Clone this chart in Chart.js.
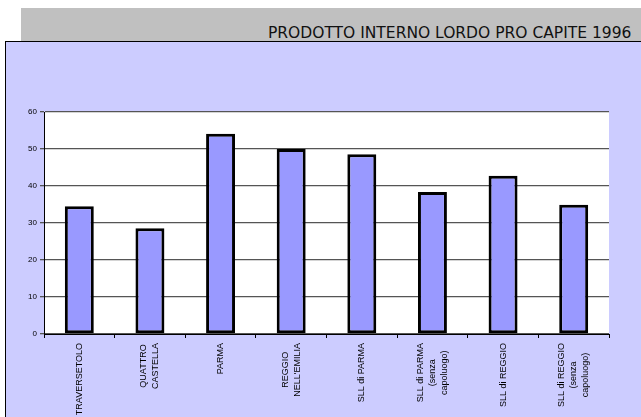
<!DOCTYPE html>
<html>
<head>
<meta charset="utf-8">
<script src="https://cdn.jsdelivr.net/npm/chart.js@4.4.1/dist/chart.umd.min.js"></script>
<style>
  html,body{margin:0;padding:0;background:#fff;}
  #wrap{position:relative;width:641px;height:417px;overflow:hidden;}
  #banner{position:absolute;left:21px;top:8px;width:640px;height:34px;background:#c0c0c0;}
  #title{position:absolute;left:247px;top:18px;font-family:"DejaVu Sans Condensed","DejaVu Sans",sans-serif;font-size:15px;line-height:15px;color:#111;white-space:nowrap;transform-origin:0 0;}
  #panel{position:absolute;left:5px;top:41px;width:650px;height:400px;background:#ccccff;border:1.5px solid #000;}
  canvas{position:absolute;left:0;top:0;}
</style>
</head>
<body>
<div id="wrap">
  <div id="banner"><div id="title">PRODOTTO INTERNO LORDO PRO CAPITE 1996</div></div>
  <div id="panel"></div>
  <canvas id="c" width="641" height="417"></canvas>
</div>
<script>
// PIL pro capite 1996, per comune / sistema locale
const areas = [
  ['TRAVERSETOLO'],
  ['QUATTRO','CASTELLA'],
  ['PARMA'],
  ['REGGIO','NELL\'EMILIA'],
  ['SLL di PARMA'],
  ['SLL di PARMA','(senza','capoluogo)'],
  ['SLL di REGGIO'],
  ['SLL di REGGIO','(senza','capoluogo)']
];
const pil = [34.5, 28.6, 54.1, 50.0, 48.6, 38.4, 42.8, 34.9];
const yTicks = [0, 10, 20, 30, 40, 50, 60];

// titolo stretto alla larghezza della banda grigia
const title = document.getElementById('title');
title.style.transform = 'scaleX(' + (363 / title.offsetWidth) + ')';

const labelFont = '9px "Liberation Sans", Arial, sans-serif';

// fondo bianco dell'area del grafico
const plotBg = {
  id:'plotBg',
  beforeDraw(chart){
    const a = chart.chartArea, ctx = chart.ctx;
    ctx.save();
    ctx.fillStyle = '#fff';
    ctx.fillRect(a.left, a.top, a.right - a.left, a.bottom - a.top);
    ctx.restore();
  }
};

// etichette verticali, righe centrate fra loro
const xLabels = {
  id:'xLabels',
  afterDraw(chart){
    const ctx = chart.ctx, x = chart.scales.x, top = chart.chartArea.bottom + 9;
    const lh = 12;
    ctx.save();
    ctx.font = labelFont;
    ctx.fillStyle = '#000';
    ctx.textAlign = 'center';
    ctx.textBaseline = 'middle';
    areas.forEach((lines, i) => {
      const cx = x.getPixelForValue(i);
      const w = Math.max(...lines.map(l => ctx.measureText(l).width));
      lines.forEach((l, j) => {
        const lx = cx + (j - (lines.length - 1) / 2) * lh;
        ctx.save();
        ctx.translate(lx, top + w / 2);
        ctx.rotate(-Math.PI / 2);
        ctx.fillText(l, 0, 0);
        ctx.restore();
      });
    });
    ctx.restore();
  }
};

new Chart(document.getElementById('c'), {
  type:'bar',
  data:{
    labels: areas.map(a => a.join(' ')),
    datasets:[{
      data: pil,
      backgroundColor:'#9999ff',
      borderColor:'#000',
      borderWidth:3,
      borderSkipped:false,
      categoryPercentage:1,
      barPercentage:0.41
    }]
  },
  options:{
    responsive:false,
    animation:false,
    layout:{padding:{left:0, top:112, right:32, bottom:0}},
    plugins:{legend:{display:false}, tooltip:{enabled:false}},
    scales:{
      x:{
        afterFit(s){ s.height = 83; },
        grid:{drawOnChartArea:false, drawTicks:true, tickLength:4, color:'#000'},
        border:{display:true, color:'#000', width:1},
        ticks:{display:false}
      },
      y:{
        min:0, max:60,
        afterFit(s){ s.width = 44; },
        afterBuildTicks(s){ s.ticks = yTicks.map(v => ({value:v})); },
        grid:{color:'#555', lineWidth:1.3, tickLength:4, drawTicks:true},
        border:{display:true, color:'#000', width:1},
        ticks:{
          color:'#000', padding:3,
          font:{family:'"Liberation Sans", Arial, sans-serif', size:8}
        }
      }
    }
  },
  plugins:[plotBg, xLabels]
});
</script>
</body>
</html>
